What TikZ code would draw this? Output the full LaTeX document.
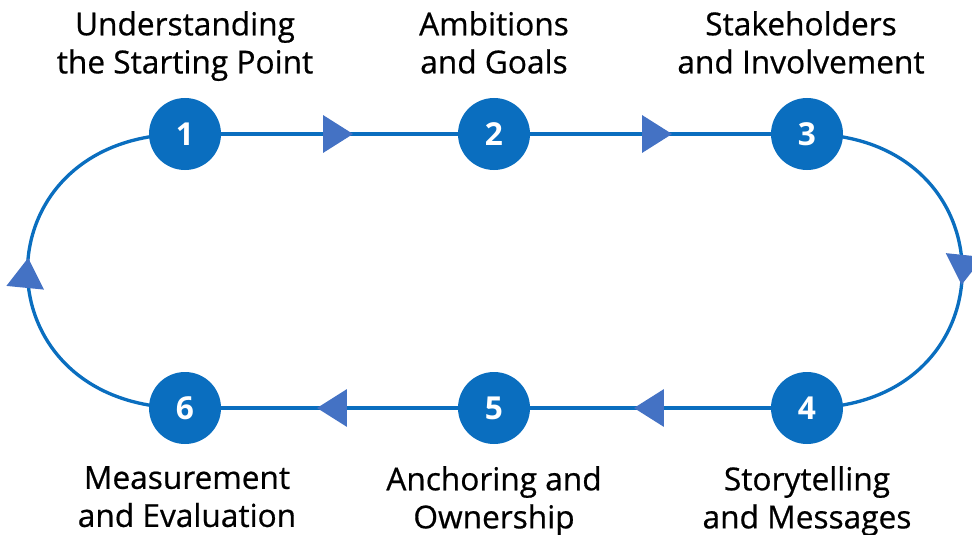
\documentclass[tikz,border=0pt]{standalone}
\usepackage{fontspec}
\setmainfont{Open Sans}
\newfontfamily\labelfont{Open Sans}[FakeBold=0.6]
\usepackage{tikz}
\usetikzlibrary{arrows.meta,positioning,decorations.markings,backgrounds}
\usepackage{xcolor}
\definecolor{loopblue}{HTML}{0A6EBF}
\definecolor{tipblue}{HTML}{4472C4}

\begin{document}
\begin{tikzpicture}[
        x=0.03cm, y=-0.03cm,
        stage/.style={draw=none, circle, fill=loopblue, minimum size=2.16cm, inner sep=0pt,
            text=white, font=\fontsize{27}{27}\selectfont\bfseries},
        lbl/.style={align=center, inner sep=0pt, anchor=north, font=\labelfont\fontsize{27}{32.5}\selectfont},
        track/.style={draw=loopblue, line width=0.1cm},
        midtip/.style={postaction={decorate}, decoration={markings,
            mark=at position #1 with {\arrow{Triangle[length=0.9cm, width=1.11cm, color=tipblue]}}}}
    ]
        \useasboundingbox (0,0) rectangle (972,535);

        % the six steps
        \node[stage] (s1) at (185,134) {1};
        \node[stage] (s2) at (494,134) {2};
        \node[stage] (s3) at (807,134) {3};
        \node[stage] (s4) at (807,408) {4};
        \node[stage] (s5) at (494,408) {5};
        \node[stage] (s6) at (185,408) {6};

        % captions, top row and bottom row
        \node[lbl] (t1) at (185,11) {Understanding\\the Starting Point};
        \node[lbl] (t2) at (494,11) {Ambitions\\and Goals};
        \node[lbl] (t3) at (801,11) {Stakeholders\\and Involvement};
        \node[lbl] (t4) at (807,466) {Storytelling\\and Messages};
        \node[lbl] (t5) at (494,466) {Anchoring and\\Ownership};
        \node[lbl] (t6) at (187,466) {Measurement\\and Evaluation};

        % the loop, behind the circles
        \begin{scope}[on background layer]
            \draw[track, midtip=0.544] (s1.center) -- (s2.center);
            \draw[track, midtip=0.569] (s2.center) -- (s3.center);
            \draw[track, midtip=0.53] (s3.center) .. controls +(207,0) and +(207,0) .. (s4.center);
            \draw[track, midtip=0.553] (s4.center) -- (s5.center);
            \draw[track, midtip=0.573] (s5.center) -- (s6.center);
            \draw[track, midtip=0.528] (s6.center) .. controls +(-210,0) and +(-210,0) .. (s1.center);
        \end{scope}
    \end{tikzpicture}
\end{document}
